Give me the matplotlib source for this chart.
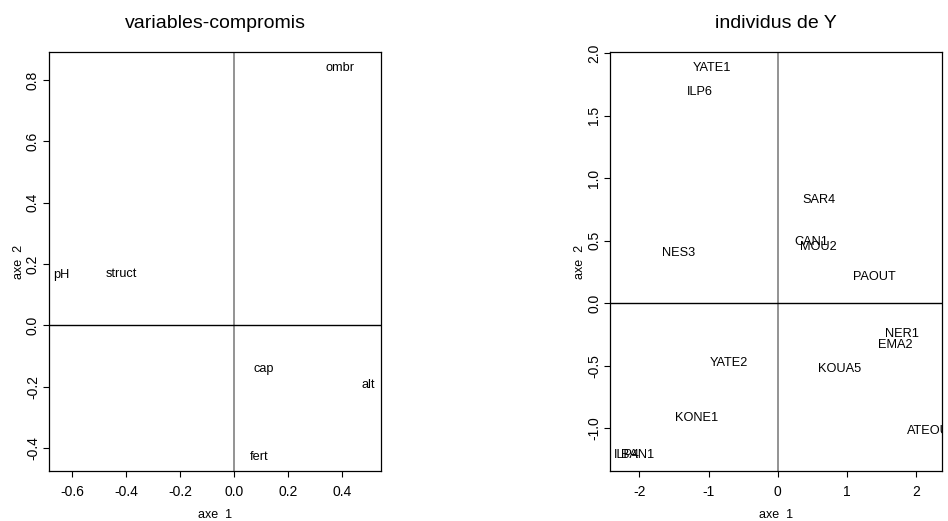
import matplotlib
matplotlib.use("Agg")
import matplotlib.pyplot as plt

plt.rcParams['font.family'] = ['Liberation Sans', 'DejaVu Sans']

# variables-compromis (axe 1, axe 2)
var_names = ['ombr', 'pH', 'struct', 'cap', 'alt', 'fert']
var_x = [0.391, -0.641, -0.416, 0.110, 0.496, 0.094]
var_y = [0.839, 0.165, 0.169, -0.142, -0.194, -0.427]

# individus de Y
ind_names = ['YATE1', 'ILP6', 'NES3', 'SAR4', 'CAN1', 'MOU2', 'PAOUT',
             'NER1', 'EMA2', 'YATE2', 'KOUA5', 'KONE1', 'ATEOU', 'ILP4', 'BAN1']
ind_x = [-0.946, -1.124, -1.427, 0.597, 0.49, 0.583, 1.393,
         1.788, 1.706, -0.70, 0.887, -1.167, 2.18, -2.18, -2.02]
ind_y = [1.879, 1.690, 0.404, 0.822, 0.492, 0.452, 0.212,
         -0.248, -0.333, -0.479, -0.527, -0.919, -1.02, -1.217, -1.217]


def panel(ax, names, xs, ys, title, xlim, ylim, xticks, yticks, xfmt, yfmt):
    for n, x, y in zip(names, xs, ys):
        ax.text(x, y, n, ha='center', va='center', fontsize=9.2, clip_on=True)
    ax.axvline(0, color='#808080', lw=1.2)
    ax.axhline(0, color='black', lw=1.0)
    ax.set_xlim(xlim)
    ax.set_ylim(ylim)
    ax.set_xticks(xticks)
    ax.set_xticklabels([xfmt.format(v) for v in xticks])
    ax.set_yticks(yticks)
    ax.set_yticklabels([yfmt.format(v) for v in yticks], rotation=90, va='center')
    ax.tick_params(direction='out', length=4, width=0.8, pad=2.5, labelsize=10)
    ax.tick_params(axis='x', pad=6)
    for s in ax.spines.values():
        s.set_linewidth(0.9)
    ax.set_title(title, fontsize=14, pad=17.5)
    ax.set_xlabel('axe  1', fontsize=9, labelpad=7)
    ax.set_ylabel('axe  2', fontsize=9, labelpad=1)


fig = plt.figure(figsize=(9.48, 5.21), dpi=100)
ax1 = fig.add_axes([0.0517, 0.096, 0.3502, 0.8042])
ax2 = fig.add_axes([0.6438, 0.096, 0.3496, 0.8042])

panel(ax1, var_names, var_x, var_y, 'variables-compromis',
      (-0.685, 0.544), (-0.474, 0.891),
      [-0.6, -0.4, -0.2, 0.0, 0.2, 0.4], [-0.4, -0.2, 0.0, 0.2, 0.4, 0.6, 0.8],
      '{:.1f}', '{:.1f}')
panel(ax2, ind_names, ind_x, ind_y, 'individus de Y',
      (-2.42, 2.37), (-1.342, 2.008),
      [-2, -1, 0, 1, 2], [-1.0, -0.5, 0.0, 0.5, 1.0, 1.5, 2.0],
      '{:d}', '{:.1f}')

fig.savefig('out.png', dpi=100)
